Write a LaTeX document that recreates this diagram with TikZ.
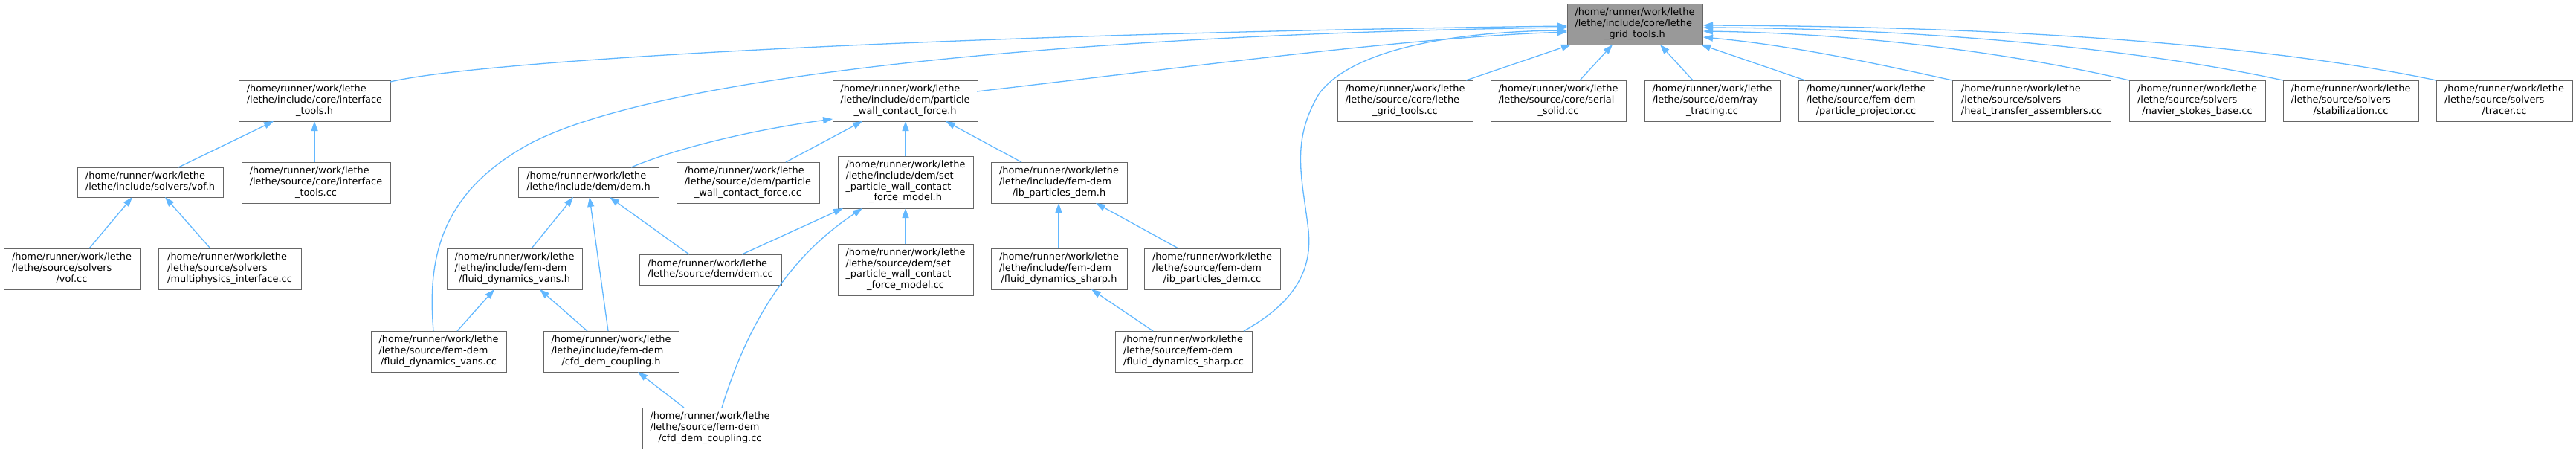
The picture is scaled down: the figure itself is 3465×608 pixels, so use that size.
\documentclass[tikz,border=0pt]{standalone}
\usepackage{fontspec}
\setmainfont{DejaVu Sans}
\usetikzlibrary{arrows.meta,calc}
\definecolor{edgeblue}{HTML}{63B8FF}
\definecolor{nodeborder}{HTML}{666666}
\definecolor{mainfill}{HTML}{999999}
\newcommand{\lb}[2]{\begin{tabular}{@{}l@{}}#1\multicolumn{1}{@{}c@{}}{#2}\end{tabular}}
\tikzset{
  filebox/.style={draw=nodeborder, fill=white, line width=1pt, inner sep=0pt,
    minimum height=55pt, font=\fontsize{12.9}{14.7}\selectfont, text=black},
  mainbox/.style={filebox, fill=mainfill},
  edge/.style={draw=edgeblue, line width=1.3pt, -{Triangle[length=13pt,width=9pt]}},
}
\begin{document}
\begin{tikzpicture}[x=1pt,y=-1pt]
\useasboundingbox (0,0) rectangle (3465,608);
% row 0
\node[mainbox, minimum width=182pt] (main) at (2199,32.5) {\lb{/home/runner/work/lethe\\/lethe/include/core/lethe\\}{\_grid\_tools.h}};
% row 1
\node[filebox, minimum width=204pt] (it_h) at (423,135.5) {\lb{/home/runner/work/lethe\\/lethe/include/core/interface\\}{\_tools.h}};
\node[filebox, minimum width=195pt] (pwcf_h) at (1217.5,135.5) {\lb{/home/runner/work/lethe\\/lethe/include/dem/particle\\}{\_wall\_contact\_force.h}};
\node[filebox, minimum width=182pt] (lgt_cc) at (1890,135.5) {\lb{/home/runner/work/lethe\\/lethe/source/core/lethe\\}{\_grid\_tools.cc}};
\node[filebox, minimum width=182pt] (ss_cc) at (2096,135.5) {\lb{/home/runner/work/lethe\\/lethe/source/core/serial\\}{\_solid.cc}};
\node[filebox, minimum width=182pt] (rt_cc) at (2303,135.5) {\lb{/home/runner/work/lethe\\/lethe/source/dem/ray\\}{\_tracing.cc}};
\node[filebox, minimum width=182pt] (pp_cc) at (2510,135.5) {\lb{/home/runner/work/lethe\\/lethe/source/fem-dem\\}{/particle\_projector.cc}};
\node[filebox, minimum width=213pt] (ht_cc) at (2732.5,135.5) {\lb{/home/runner/work/lethe\\/lethe/source/solvers\\}{/heat\_transfer\_assemblers.cc}};
\node[filebox, minimum width=183pt] (ns_cc) at (2955.5,135.5) {\lb{/home/runner/work/lethe\\/lethe/source/solvers\\}{/navier\_stokes\_base.cc}};
\node[filebox, minimum width=182pt] (stab_cc) at (3162,135.5) {\lb{/home/runner/work/lethe\\/lethe/source/solvers\\}{/stabilization.cc}};
\node[filebox, minimum width=183pt] (tr_cc) at (3368.5,135.5) {\lb{/home/runner/work/lethe\\/lethe/source/solvers\\}{/tracer.cc}};
% row 2
\node[filebox, minimum width=196pt, minimum height=40pt] (vof_h) at (202,245) {\lb{/home/runner/work/lethe\\}{/lethe/include/solvers/vof.h}};
\node[filebox, minimum width=200pt] (it_cc) at (425,245.5) {\lb{/home/runner/work/lethe\\/lethe/source/core/interface\\}{\_tools.cc}};
\node[filebox, minimum width=189pt, minimum height=40pt] (dem_h) at (791.5,245) {\lb{/home/runner/work/lethe\\}{/lethe/include/dem/dem.h}};
\node[filebox, minimum width=192pt] (pwcf_cc) at (1006,245.5) {\lb{/home/runner/work/lethe\\/lethe/source/dem/particle\\}{\_wall\_contact\_force.cc}};
\node[filebox, minimum width=182pt, minimum height=70pt] (spwcm_h) at (1218,245) {\lb{/home/runner/work/lethe\\/lethe/include/dem/set\\\_particle\_wall\_contact\\}{\_force\_model.h}};
\node[filebox, minimum width=183pt] (ibp_h) at (1424.5,245.5) {\lb{/home/runner/work/lethe\\/lethe/include/fem-dem\\}{/ib\_particles\_dem.h}};
% row 3
\node[filebox, minimum width=183pt] (vof_cc) at (96.5,361.5) {\lb{/home/runner/work/lethe\\/lethe/source/solvers\\}{/vof.cc}};
\node[filebox, minimum width=192pt] (mi_cc) at (309,361.5) {\lb{/home/runner/work/lethe\\/lethe/source/solvers\\}{/multiphysics\_interface.cc}};
\node[filebox, minimum width=182pt] (fdv_h) at (692,361.5) {\lb{/home/runner/work/lethe\\/lethe/include/fem-dem\\}{/fluid\_dynamics\_vans.h}};
\node[filebox, minimum width=191pt, minimum height=41pt] (dem_cc) at (955.5,362.5) {\lb{/home/runner/work/lethe\\}{/lethe/source/dem/dem.cc}};
\node[filebox, minimum width=182pt, minimum height=69pt] (spwcm_cc) at (1218,362.5) {\lb{/home/runner/work/lethe\\/lethe/source/dem/set\\\_particle\_wall\_contact\\}{\_force\_model.cc}};
\node[filebox, minimum width=183pt] (fds_h) at (1424.5,361.5) {\lb{/home/runner/work/lethe\\/lethe/include/fem-dem\\}{/fluid\_dynamics\_sharp.h}};
\node[filebox, minimum width=183pt] (ibp_cc) at (1630.5,361.5) {\lb{/home/runner/work/lethe\\/lethe/source/fem-dem\\}{/ib\_particles\_dem.cc}};
% row 4
\node[filebox, minimum width=182pt] (fdv_cc) at (590,472.5) {\lb{/home/runner/work/lethe\\/lethe/source/fem-dem\\}{/fluid\_dynamics\_vans.cc}};
\node[filebox, minimum width=182pt] (cdc_h) at (822,472.5) {\lb{/home/runner/work/lethe\\/lethe/include/fem-dem\\}{/cfd\_dem\_coupling.h}};
\node[filebox, minimum width=184pt] (fds_cc) at (1592,472.5) {\lb{/home/runner/work/lethe\\/lethe/source/fem-dem\\}{/fluid\_dynamics\_sharp.cc}};
% row 5
\node[filebox, minimum width=182pt] (cdc_cc) at (955,575.5) {\lb{/home/runner/work/lethe\\/lethe/source/fem-dem\\}{/cfd\_dem\_coupling.cc}};

% edges into main
\draw[edge] ($(it_h.center)+(102,-25.5)$) .. controls (650,80) and (1300,45) .. ($(main.center)+(-91,2.5)$);
\draw[edge] ($(fdv_cc.center)+(-7,-27.5)$) .. controls (575,350) and (590,260) .. (713,193) .. controls (900,95) and (1500,45) .. ($(main.center)+(-91,4.5)$);
\draw[edge] ($(pwcf_h.center)+(96.5,-12.5)$) .. controls (1600,90) and (1900,50) .. ($(main.center)+(-91,10.5)$);
\draw[edge] ($(fds_cc.center)+(81,-27.5)$) .. controls (1745,405) and (1765,360) .. (1760,310) .. controls (1752,240) and (1735,190) .. (1775,125) .. controls (1825,60) and (1980,42) .. ($(main.center)+(-91,8.5)$);
\draw[edge] ($(lgt_cc.center)+(82,-27.5)$) -- ($(main.center)+(-86,27.5)$);
\draw[edge] ($(ss_cc.center)+(29,-27.5)$) -- ($(main.center)+(-30,27.5)$);
\draw[edge] ($(rt_cc.center)+(-26,-27.5)$) -- ($(main.center)+(34,27.5)$);
\draw[edge] ($(pp_cc.center)+(-82,-27.5)$) -- ($(main.center)+(89,27.5)$);
\draw[edge] ($(ht_cc.center)+(-106.5,-27.5)$) .. controls (2500,80) and (2400,60) .. ($(main.center)+(92,17.5)$);
\draw[edge] ($(ns_cc.center)+(-91.5,-27.5)$) .. controls (2700,70) and (2500,45) .. ($(main.center)+(92,9.5)$);
\draw[edge] ($(stab_cc.center)+(-91,-27.5)$) .. controls (2850,60) and (2550,38) .. ($(main.center)+(92,4.5)$);
\draw[edge] ($(tr_cc.center)+(-91.5,-27.5)$) .. controls (3000,50) and (2600,35) .. ($(main.center)+(92,1.5)$);
% lower edges
\draw[edge] ($(vof_h.center)+(38,-20)$) -- ($(it_h.center)+(-55,27.5)$);
\draw[edge] ($(it_cc.center)+(-2,-27.5)$) -- ($(it_h.center)+(0,27.5)$);
\draw[edge] ($(vof_cc.center)+(23.5,-27.5)$) -- ($(vof_h.center)+(-24,20)$);
\draw[edge] ($(mi_cc.center)+(-26,-27.5)$) -- ($(vof_h.center)+(20,20)$);
\draw[edge] ($(dem_h.center)+(57.5,-20)$) .. controls (920,195) and (1030,172) .. ($(pwcf_h.center)+(-97.5,24.5)$);
\draw[edge] ($(pwcf_cc.center)+(51,-27.5)$) -- ($(pwcf_h.center)+(-57.5,27.5)$);
\draw[edge] ($(spwcm_h.center)+(0,-35)$) -- ($(pwcf_h.center)+(0.5,27.5)$);
\draw[edge] ($(ibp_h.center)+(-50.5,-27.5)$) -- ($(pwcf_h.center)+(54.5,27.5)$);
\draw[edge] ($(fdv_h.center)+(23,-27.5)$) -- ($(dem_h.center)+(-20.5,20)$);
\draw[edge] ($(cdc_h.center)+(-4,-27.5)$) -- ($(dem_h.center)+(1.5,20)$);
\draw[edge] ($(dem_cc.center)+(-28.5,-20.5)$) -- ($(dem_h.center)+(28.5,20)$);
\draw[edge] ($(dem_cc.center)+(42.5,-20.5)$) -- ($(spwcm_h.center)+(-84,35)$);
\draw[edge] ($(cdc_cc.center)+(16,-27.5)$) .. controls (1010,420) and (1070,340) .. ($(spwcm_h.center)+(-58,35)$);
\draw[edge] ($(spwcm_cc.center)+(0,-34.5)$) -- ($(spwcm_h.center)+(0,35)$);
\draw[edge] ($(fds_h.center)+(-0.5,-27.5)$) -- ($(ibp_h.center)+(-0.5,27.5)$);
\draw[edge] ($(ibp_cc.center)+(-45.5,-27.5)$) -- ($(ibp_h.center)+(49.5,27.5)$);
\draw[edge] ($(fdv_cc.center)+(25,-27.5)$) -- ($(fdv_h.center)+(-27,27.5)$);
\draw[edge] ($(cdc_h.center)+(-32,-27.5)$) -- ($(fdv_h.center)+(34,27.5)$);
\draw[edge] ($(cdc_cc.center)+(-35,-27.5)$) -- ($(cdc_h.center)+(36,27.5)$);
\draw[edge] ($(fds_cc.center)+(-41,-27.5)$) -- ($(fds_h.center)+(43.5,27.5)$);
\end{tikzpicture}
\end{document}
